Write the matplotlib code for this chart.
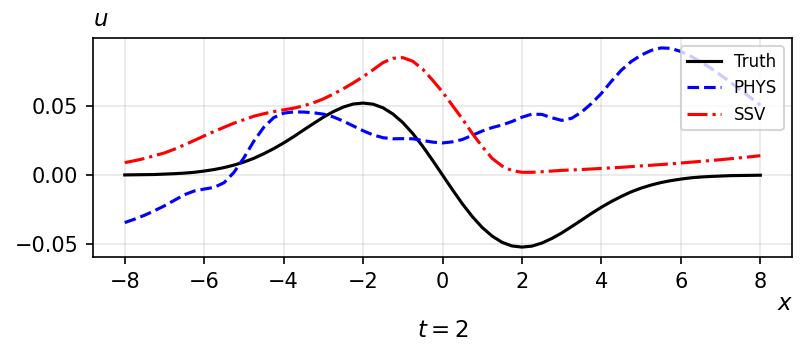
import matplotlib
matplotlib.use("Agg")
import matplotlib.pyplot as plt

# grid points, values at 0.25 steps
x = [-8 + 0.25 * i for i in range(65)]

truth = [0.0001, 0.0002, 0.0003, 0.0004, 0.0007, 0.0010, 0.0014, 0.0020,
         0.0029, 0.0040, 0.0054, 0.0072, 0.0094, 0.0121, 0.0154, 0.0191,
         0.0232, 0.0277, 0.0325, 0.0372, 0.0418, 0.0458, 0.0491, 0.0513,
         0.0520, 0.0512, 0.0486, 0.0441, 0.0379, 0.0300, 0.0208, 0.0106,
         0.0,
         -0.0106, -0.0208, -0.0300, -0.0379, -0.0441, -0.0486, -0.0512, -0.0520,
         -0.0513, -0.0491, -0.0458, -0.0418, -0.0372, -0.0325, -0.0277, -0.0232,
         -0.0191, -0.0154, -0.0121, -0.0094, -0.0072, -0.0054, -0.0040, -0.0029,
         -0.0020, -0.0014, -0.0010, -0.0007, -0.0004, -0.0003, -0.0002, -0.0001]

phys = [-0.0343, -0.0318, -0.0290, -0.0257, -0.0222, -0.0182, -0.0142, -0.0115,
        -0.0101, -0.0089, -0.0055, 0.0020, 0.0125, 0.0245, 0.0345, 0.0415,
        0.0447, 0.0456, 0.0455, 0.0450, 0.0440, 0.0420, 0.0390, 0.0355,
        0.0320, 0.0290, 0.0270, 0.0262, 0.0263, 0.0262, 0.0250, 0.0238,
        0.0232,
        0.0240, 0.0257, 0.0287, 0.0318, 0.0343, 0.0362, 0.0387, 0.0418,
        0.0440, 0.0438, 0.0414, 0.0395, 0.0410, 0.0455, 0.0517, 0.0590,
        0.0677, 0.0757, 0.0820, 0.0866, 0.0900, 0.0918, 0.0915, 0.0892,
        0.0858, 0.0818, 0.0772, 0.0722, 0.0670, 0.0614, 0.0560, 0.0505]

ssv = [0.0090, 0.0104, 0.0120, 0.0140, 0.0160, 0.0187, 0.0218, 0.0250,
       0.0283, 0.0315, 0.0345, 0.0375, 0.0400, 0.0425, 0.0443, 0.0458,
       0.0471, 0.0483, 0.0500, 0.0522, 0.0550, 0.0585, 0.0623, 0.0665,
       0.0710, 0.0760, 0.0812, 0.0843, 0.0848, 0.0822, 0.0765, 0.0685,
       0.0600,
       0.0502, 0.0405, 0.0300, 0.0205, 0.0120, 0.0065, 0.0032, 0.0020,
       0.0020, 0.0024, 0.0029, 0.0034, 0.0037, 0.0040, 0.0044, 0.0048,
       0.0052, 0.0056, 0.0061, 0.0066, 0.0071, 0.0076, 0.0081, 0.0087,
       0.0093, 0.0099, 0.0105, 0.0111, 0.0118, 0.0125, 0.0132, 0.0140]

fig = plt.figure(figsize=(805 / 150, 357 / 150), dpi=150)
ax = fig.add_axes([0.1155, 0.28, 0.8685, 0.6136])

ax.plot(x, truth, color="black", lw=1.5, label="Truth")
ax.plot(x, phys, color="blue", ls="--", lw=1.5, label="PHYS")
ax.plot(x, ssv, color="red", ls="-.", lw=1.5, label="SSV")

ax.set_xticks([-8, -6, -4, -2, 0, 2, 4, 6, 8])
ax.set_yticks([-0.05, 0.0, 0.05])
ax.grid(True, color="#b0b0b0", alpha=0.3)
ax.legend(loc="upper right", fontsize=8)

ax.text(0.0, 1.03, "$u$", transform=ax.transAxes, fontsize=11, ha="left", va="bottom")
ax.text(0.978, -0.16, "$x$", transform=ax.transAxes, fontsize=11, ha="left", va="top")
fig.text(0.55, 0.075, "$t = 2$", ha="center", va="center", fontsize=11)

fig.savefig("out.png", dpi=150)
